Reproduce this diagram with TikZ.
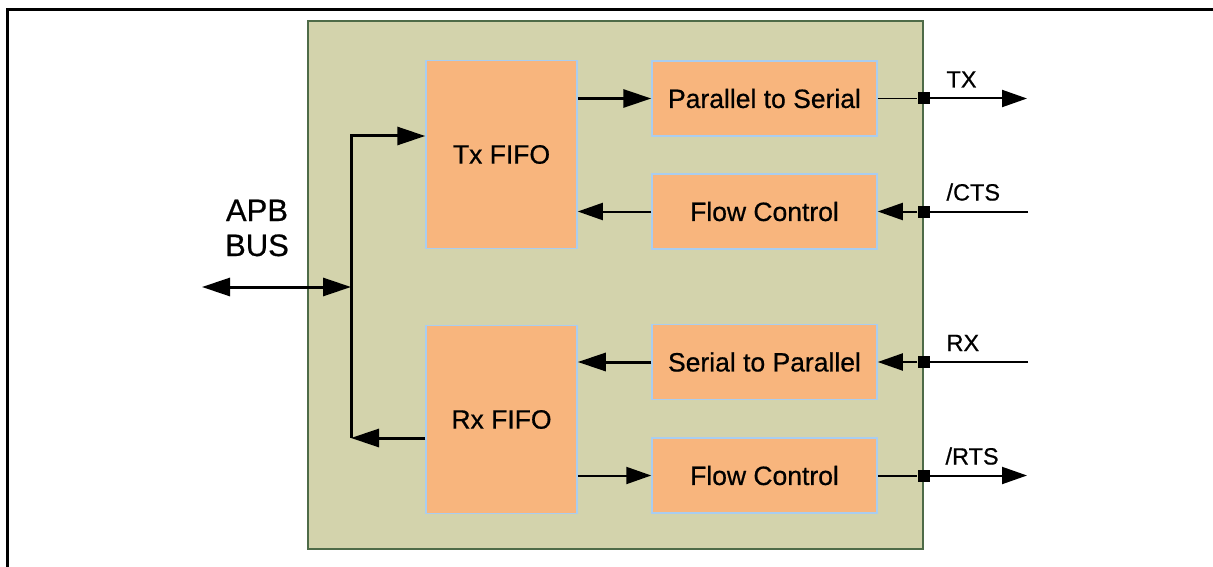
\documentclass[tikz,border=0pt]{standalone}
\usepackage{fontspec}
\setmainfont{Liberation Sans}[FakeBold=0.6]
\usetikzlibrary{arrows.meta}
\usepackage{xcolor}
\definecolor{uartbg}{HTML}{D3D3AC}
\definecolor{uartedge}{HTML}{4E6B48}
\definecolor{blockfill}{HTML}{F8B57D}
\definecolor{blockedge}{HTML}{A9CDF0}

\begin{document}
\begin{tikzpicture}[x=1pt, y=-1pt,
  block/.style={draw=blockedge, line width=1.5pt, fill=blockfill,
    minimum width=225pt, minimum height=75pt, inner sep=0pt,
    font=\fontsize{26.5}{30}\selectfont},
  fifo/.style={block, minimum width=151pt, minimum height=188pt},
  pin/.style={fill=black, minimum size=12pt, inner sep=0pt},
  sig/.style={anchor=base west, font=\fontsize{23.5}{27}\selectfont},
  thk/.style={line width=3pt, -{Triangle[length=28pt, width=18pt]}},
  thn/.style={line width=2pt, -{Triangle[length=25pt, width=17pt]}}]

\useasboundingbox (0,0) rectangle (1213,567);

%% ------------------------------------------------------------------
%% page frame and the UART block
%% ------------------------------------------------------------------
\draw[line width=3pt] (7,567) -- (7,10) -- (1213,10);

\node[draw=uartedge, line width=1.2pt, fill=uartbg, minimum width=615pt,
  minimum height=528pt, inner sep=0pt] (uart) at (615.5,285) {};

%% ------------------------------------------------------------------
%% FIFOs and converters
%% ------------------------------------------------------------------
\node[fifo] (txfifo) at (501.5,154.5) {Tx FIFO};
\node[fifo] (rxfifo) at (501.5,419.5) {Rx FIFO};

\node[block] (p2s)  at (764.5,98.5)  {Parallel to Serial};
\node[block] (fctx) at (764.5,211.5) {Flow Control};
\node[block] (s2p)  at (764.5,362)   {Serial to Parallel};
\node[block] (fcrx) at (764.5,475.5) {Flow Control};

% data paths between FIFOs and converters
\draw[thk] (p2s.west -| txfifo.east) -- (p2s.west);
\draw[thn] (fctx.west) -- (fctx.west -| txfifo.east);
\draw[thk] (s2p.west) -- (s2p.west -| rxfifo.east);
\draw[thn] (fcrx.west -| rxfifo.east) -- (fcrx.west);

%% ------------------------------------------------------------------
%% pins on the block edge and the external signals
%% ------------------------------------------------------------------
\node[pin] (ptx)  at (uart.east |- p2s)  {};
\node[pin] (pcts) at (uart.east |- fctx) {};
\node[pin] (prx)  at (uart.east |- s2p)  {};
\node[pin] (prts) at (uart.east |- fcrx) {};

\coordinate (txend)  at (1027,98.5);
\coordinate (ctsend) at (1028,211.5);
\coordinate (rxend)  at (1028,362);
\coordinate (rtsend) at (1027,475.5);

\draw[line width=1.5pt] (p2s) -- (ptx);
\draw[thn] (ptx) -- (txend);
\draw[line width=2pt] (ctsend) -- (pcts);
\draw[thn] (pcts) -- (fctx);
\draw[line width=2pt] (rxend) -- (prx);
\draw[thn] (prx) -- (s2p);
\draw[line width=2pt] (fcrx) -- (prts);
\draw[thn] (prts) -- (rtsend);

\node[sig] (txlbl)  at (943,87.5)  {TX};
\node[sig] (ctslbl) at (943,200.5) {/CTS};
\node[sig] (rxlbl)  at (943,351)   {RX};
\node[sig] (rtslbl) at (942,464.5) {/RTS};

%% ------------------------------------------------------------------
%% APB bus and its branches to the FIFOs
%% ------------------------------------------------------------------
\coordinate (bustop) at (351,136);
\coordinate (busbot) at (351,438);
\coordinate (busmid) at (351,287);
\coordinate (apb)    at (202,287);

\draw[thk, line join=miter] (busbot) -- (bustop) -- (bustop -| txfifo.west);
\draw[thk] (busbot -| rxfifo.west) -- (busbot);
\draw[line width=3pt, {Triangle[length=28pt, width=18pt]}-{Triangle[length=28pt, width=18pt]}]
  (apb) -- (busmid);

\node[align=center, font=\fontsize{31}{35}\selectfont] (apblbl) at (257,228) {APB\\BUS};

\end{tikzpicture}
\end{document}
